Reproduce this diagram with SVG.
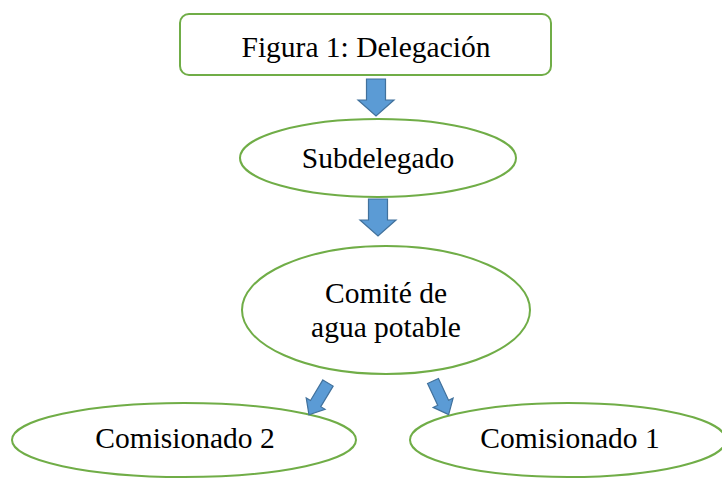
<svg xmlns="http://www.w3.org/2000/svg" width="722" height="479" viewBox="0 0 722 479">
<style>
.node{fill:#fff;stroke:#70AD47;stroke-width:2}
.arr{fill:#5B9BD5;stroke:#41719C;stroke-width:1.2}
</style>
<defs>
<path id="bigArrow" d="M-9.5,0 H9.5 V21 H18 L0,37 L-18,21 H-9.5 Z"/>
<path id="smallArrow" d="M-6,0 H6 V24 H11 L0,37 L-11,24 H-6 Z"/>
</defs>
<rect width="722" height="479" fill="#fff"/>
<g font-family="Liberation Serif, Times New Roman, serif" font-size="29.5" fill="#000" text-anchor="middle">
<g id="n-delegacion">
<rect class="node" x="180" y="14" width="371" height="61" rx="9"/>
<text x="366" y="57" fill="#000">Figura 1: Delegación</text>
</g>
<g id="n-subdelegado">
<ellipse class="node" cx="378" cy="158" rx="138" ry="39"/>
<text x="378" y="168" fill="#000">Subdelegado</text>
</g>
<g id="n-comite">
<ellipse class="node" cx="386" cy="310" rx="144" ry="64"/>
<text x="386" y="303" fill="#000">Comité de</text>
<text x="386" y="337" fill="#000">agua potable</text>
</g>
<g id="n-comisionado2">
<ellipse class="node" cx="184" cy="440" rx="172" ry="37"/>
<text x="185" y="448" fill="#000">Comisionado 2</text>
</g>
<g id="n-comisionado1">
<ellipse class="node" cx="568" cy="440" rx="158" ry="37"/>
<text x="570" y="448" fill="#000">Comisionado 1</text>
</g>
</g>
<g id="connectors">
<use href="#bigArrow" class="arr" transform="translate(376,79)"/>
<use href="#bigArrow" class="arr" transform="translate(378,199)"/>
<use href="#smallArrow" class="arr" transform="translate(328,383) rotate(31)"/>
<use href="#smallArrow" class="arr" transform="translate(433,381) rotate(-25)"/>
</g>
</svg>
